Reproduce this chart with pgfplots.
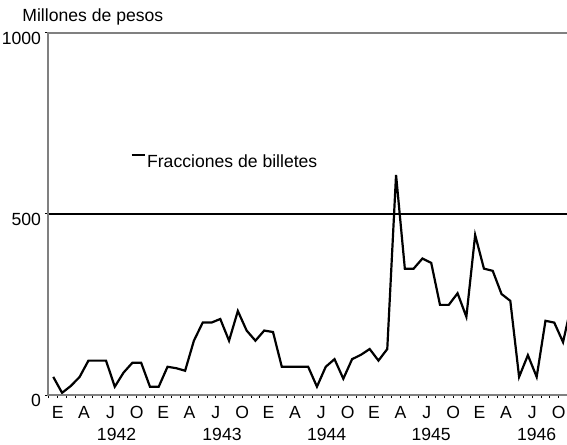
\documentclass[border=0pt]{standalone}
\usepackage{fontspec}
\setmainfont{Liberation Sans}
\usepackage{pgfplots}
\pgfplotsset{compat=1.18}
\usetikzlibrary{calc}

\begin{document}
\begin{tikzpicture}
\begin{axis}[
    scale only axis,
    width=259.5pt, height=181pt,
    xmin=-0.6, xmax=58.45,
    ymin=0, ymax=1000,
    axis line style={draw=none},
    font=\fontsize{8.8}{10.5}\selectfont,
    tick align=outside,
    xtick pos=bottom, ytick pos=left,
    major tick length=1.5pt,
    tick style={black, line width=0.5pt},
    ytick={0,500,1000},
    yticklabels={0,500,1000},
    yticklabel style={xshift=1.5pt, yshift=-2.5pt},
    xtick={-0.5,0.5,...,57.5},
    xticklabels={,E,,,A,,,J,,,O,,,E,,,A,,,J,,,O,,,E,,,A,,,J,,,O,,,E,,,A,,,J,,,O,,,E,,,A,,,J,,,O},
    xticklabel style={yshift=-0.5pt},
    extra x ticks={7.2,19.2,31.1,43.0,55.0},
    extra x tick labels={1942,1943,1944,1945,1946},
    extra x tick style={major tick length=0pt, tick style={draw=none},
        xticklabel style={yshift=-12.5pt}},
    legend style={at={(rel axis cs:0.158,0.642)}, anchor=west,
        draw=none, fill=none, inner sep=0pt,
        nodes={inner xsep=0.75pt},
        font=\fontsize{8.8}{10.5}\selectfont},
    legend image code/.code={\draw[#1] (0pt,3.75pt) -- (6.5pt,3.75pt);},
]

% reference line at 500
\addplot[black, line width=1pt, forget plot] coordinates {(-1,500) (60,500)};

% monthly values, Jan 1942 onwards
\addplot[black, line width=1.1pt] coordinates {
    (0,50) (1,6) (2,25) (3,50) (4,95) (5,95) (6,95) (7,23) (8,62) (9,89)
    (10,89) (11,23) (12,23) (13,78) (14,74) (15,67) (16,150) (17,200) (18,200) (19,210)
    (20,150) (21,232) (22,178) (23,150) (24,178) (25,174) (26,78) (27,78) (28,78) (29,78)
    (30,23) (31,78) (32,99) (33,45) (34,99) (35,111) (36,127) (37,95) (38,127) (39,608)
    (40,349) (41,349) (42,377) (43,365) (44,249) (45,249) (46,281) (47,216) (48,442) (49,349)
    (50,343) (51,279) (52,260) (53,50) (54,110) (55,50) (56,205) (57,200) (58,146) (59,255)
};
\legend{Fracciones de billetes}

\coordinate (ll) at (rel axis cs:0,0);
\coordinate (ur) at (rel axis cs:1,1);
\end{axis}

% axis frame (no right side)
\draw[gray, line width=1pt] (ll -| ur) -- (ll) -- (ll |- ur) -- (ur);

\node[anchor=base west, inner sep=0pt, font=\fontsize{8.8}{10.5}\selectfont]
    at ($(ll |- ur)+(-13pt,5.5pt)$) {Millones de pesos};

\pgfresetboundingbox
\path ($(ll)+(-24pt,-24.5pt)$) rectangle ($(ur)+(0pt,16.5pt)$);
\end{tikzpicture}
\end{document}
